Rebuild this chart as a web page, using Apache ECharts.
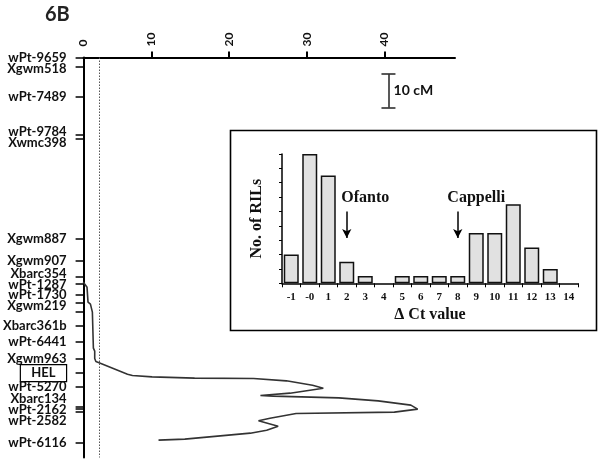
<!DOCTYPE html>
<html>
<head>
<meta charset="utf-8">
<script src="https://cdn.jsdelivr.net/npm/echarts@6/dist/echarts.min.js"></script>
<style>html,body{margin:0;padding:0;background:#fff}#c{width:600px;height:460px}</style>
</head>
<body>
<div id="c"></div>
<script>
// ---- main map: markers (name, position in cM) ----
const markerNames = ['wPt-9659','Xgwm518','wPt-7489','wPt-9784','Xwmc398','Xgwm887','Xgwm907','Xbarc354','wPt-1287','wPt-1730','Xgwm219','','Xbarc361b','wPt-6441','Xgwm963','HEL','wPt-5270','Xbarc134','wPt-2162','wPt-2582','wPt-6116'];
const markerCM = [0, 2.9, 11.9, 23.3, 24.5, 54.5, 61.1, 65.9, 67.9, 71.3, 73.6, 76.4, 80.6, 85.4, 90.5, 94.7, 98.9, 104.9, 105.5, 106.4, 115.7];

// ---- LOD profile ----
const qtlCM  = [67.3, 68.0, 68.9, 73.4, 74.0, 76.4, 87.2, 88.1, 90.3, 91.2, 91.7, 95.0, 95.4, 95.8, 96.2, 96.3, 97.0, 98.3, 99.2, 100.7, 101.4, 101.6, 102.1, 103.0, 104.3, 105.5, 106.4, 106.8, 108.2, 109.0, 110.6, 111.8, 112.7, 114.5, 114.8];
const qtlLOD = [1.24, 1.44, 1.72, 1.85, 2.16, 2.41, 2.54, 2.71, 2.71, 2.86, 3.43, 6.93, 7.56, 10.09, 15.56, 23.15, 27.36, 30.73, 32.12, 27.83, 24.03, 25.68, 34.11, 39.17, 43.38, 44.26, 41.26, 28.62, 25.26, 23.78, 26.31, 24.83, 22.73, 14.30, 10.92];
const lodThreshold = 3.3;
const lodTicks = [10, 20, 30, 40];

// ---- inset histogram ----
const ctCategories = ['-1','-0','1','2','3','4','5','6','7','8','9','10','11','12','13','14'];
const rilCounts = [4, 18, 15, 3, 1, '-', 1, 1, 1, 1, 7, 7, 11, 5, 2, '-'];

// layout constants
const XMIN = 1.28, XMAX = 49.06, CM_MAX = 120;
const SANS = 'Lato', SERIF = 'Liberation Serif';
const PAD_VALUE = 40; // empty guard label so ECharts keeps the first/last marker names

// declutter label positions (cM units)
function declutter(vals, gap, lo) {
  let groups = vals.map(v => ({ items: [v], center: v }));
  let changed = true;
  const pos = g => g.items.map((_, i) => g.center + (i - (g.items.length - 1) / 2) * gap);
  while (changed) {
    changed = false;
    for (let i = 0; i < groups.length - 1; i++) {
      const a = pos(groups[i]), b = pos(groups[i + 1]);
      if (b[0] - a[a.length - 1] < gap - 1e-6) {
        const items = groups[i].items.concat(groups[i + 1].items);
        const center = items.reduce((s, v) => s + v, 0) / items.length;
        groups.splice(i, 2, { items, center });
        changed = true; break;
      }
    }
  }
  const out = groups.flatMap(pos);
  for (let i = 0; i < out.length; i++) {
    const floor = i === 0 ? lo : out[i - 1] + gap;
    if (out[i] < floor) out[i] = floor;
  }
  return out;
}
const labelled = markerNames.map((n, i) => ({ n, v: markerCM[i] })).filter(d => d.n !== '');
const labelPos = declutter(labelled.map(d => d.v), 3.25, 0);
const labelMap = {};
labelPos.forEach((p, i) => { labelMap[p.toFixed(4)] = labelled[i].n; });

const chart = echarts.init(document.getElementById('c'), null, { renderer: 'canvas' });
chart.setOption({
  animation: false,
  backgroundColor: '#fff',
  title: { text: '6B', left: 40, top: 0, textStyle: { fontFamily: SANS, fontSize: 20, fontWeight: 'bold', color: '#222' } },
  graphic: [{
    type: 'rect', z: 0,
    shape: { x: 230.5, y: 130.5, width: 366, height: 200 },
    style: { fill: 'none', stroke: '#000', lineWidth: 1.6 }
  }],
  grid: [
    { left: 77, top: 57.5, width: 378, height: 400 },
    { left: 282, top: 154, width: 296, height: 129.3 }
  ],
  xAxis: [
    {
      gridIndex: 0, type: 'value', position: 'top', min: XMIN, max: XMAX,
      axisLine: { onZero: false, lineStyle: { color: '#000', width: 2 } },
      axisTick: { show: true, customValues: lodTicks, length: 6, lineStyle: { color: '#000', width: 2 } },
      axisLabel: { customValues: [XMIN].concat(lodTicks), rotate: -90, margin: 11,
        formatter: v => (v < 5 ? '0' : String(v)),
        fontFamily: SANS, fontSize: 12, fontWeight: 'bold', color: '#111' },
      splitLine: { show: false }
    },
    {
      gridIndex: 1, type: 'category', data: ctCategories, boundaryGap: true,
      axisLine: { lineStyle: { color: '#000', width: 1.5 } },
      axisTick: { show: true, length: 4, lineStyle: { color: '#000', width: 1 } },
      axisLabel: { margin: 8, fontFamily: SERIF, fontSize: 11, fontWeight: 'bold', color: '#111', interval: 0 },
      name: 'Δ Ct value', nameLocation: 'middle', nameGap: 24,
      nameTextStyle: { fontFamily: SERIF, fontSize: 16, fontWeight: 'bold', color: '#111' }
    }
  ],
  yAxis: [
    {
      gridIndex: 0, type: 'value', inverse: true, min: 0, max: CM_MAX,
      axisLine: { show: true, onZero: false, lineStyle: { color: '#000', width: 2 } },
      axisTick: { show: true, customValues: markerCM, length: 8, lineStyle: { color: '#000', width: 1.5 } },
      axisLabel: { show: false },
      splitLine: { show: false }
    },
    {
      gridIndex: 0, type: 'value', inverse: true, min: 0, max: CM_MAX, position: 'left',
      axisLine: { show: false }, axisTick: { show: false }, splitLine: { show: false },
      axisLabel: {
        customValues: [PAD_VALUE].concat(labelPos, [PAD_VALUE]), margin: 17,
        formatter: v => { const n = labelMap[v.toFixed(4)]; if (!n) return ' '; return n === 'HEL' ? '{box|HEL}' : n; },
        fontFamily: SANS, fontSize: 13, fontWeight: 'bold', color: '#111',
        rich: { box: { fontFamily: SANS, fontSize: 13, fontWeight: 'bold', color: '#111', lineHeight: 14, borderColor: '#000', borderWidth: 1.2, padding: [2, 11, 2, 11] } }
      }
    },
    {
      gridIndex: 1, type: 'value', min: 0, max: 18, interval: 2,
      axisLine: { show: true, lineStyle: { color: '#000', width: 1.5 } },
      axisTick: { show: true, length: 3, lineStyle: { color: '#000', width: 1 } },
      axisLabel: { show: false }, splitLine: { show: false },
      name: 'No. of RILs', nameLocation: 'middle', nameGap: 25, nameRotate: 90,
      nameTextStyle: { fontFamily: SERIF, fontSize: 16, fontWeight: 'bold', color: '#111', align: 'center', verticalAlign: 'middle' }
    }
  ],
  series: [
    {
      type: 'line', xAxisIndex: 0, yAxisIndex: 0,
      data: qtlCM.map((c, i) => [qtlLOD[i], c]),
      showSymbol: false, symbol: 'none', smooth: false,
      lineStyle: { color: '#333', width: 1.6 },
      markLine: {
        silent: true, symbol: 'none', animation: false,
        data: [
          { xAxis: lodThreshold, lineStyle: { color: '#555', width: 1, type: [1.5, 1.5] }, label: { show: false } },
          [{ coord: [40.5, 5] }, { coord: [40.5, 15] }],
          [{ coord: [39.6, 5] }, { coord: [41.4, 5] }],
          [{ coord: [39.6, 15] }, { coord: [41.4, 15] }]
        ],
        lineStyle: { color: '#222', width: 1.5, type: 'solid' },
        label: { show: false }
      },
      markPoint: {
        silent: true, symbol: 'circle', symbolSize: 0,
        data: [{ coord: [40.9, 9.8], value: '10 cM' }],
        label: { show: true, position: 'right', distance: 2, formatter: '10 cM', fontFamily: SANS, fontSize: 14, fontWeight: 'bold', color: '#111' }
      }
    },
    {
      type: 'bar', xAxisIndex: 1, yAxisIndex: 2,
      data: rilCounts, barWidth: 15,
      itemStyle: { color: '#e1e1e1', borderColor: '#111', borderWidth: 1.5 },
      markLine: {
        silent: true, symbol: ['none', 'arrow'], symbolSize: [7, 9],
        data: [
          [{ coord: ['2', 10] }, { coord: ['2', 6.3] }],
          [{ coord: ['8', 10] }, { coord: ['8', 6.3] }]
        ],
        lineStyle: { color: '#000', width: 1.5, type: 'solid' },
        label: { show: false }
      },
      markPoint: {
        silent: true, symbol: 'circle', symbolSize: 0,
        data: [
          { coord: ['3', 11.9], name: 'Ofanto' },
          { coord: ['9', 11.9], name: 'Cappelli' }
        ],
        label: { show: true, position: 'inside', formatter: p => p.name, fontFamily: SERIF, fontSize: 16, fontWeight: 'bold', color: '#111' }
      }
    }
  ]
});
</script>
</body>
</html>
